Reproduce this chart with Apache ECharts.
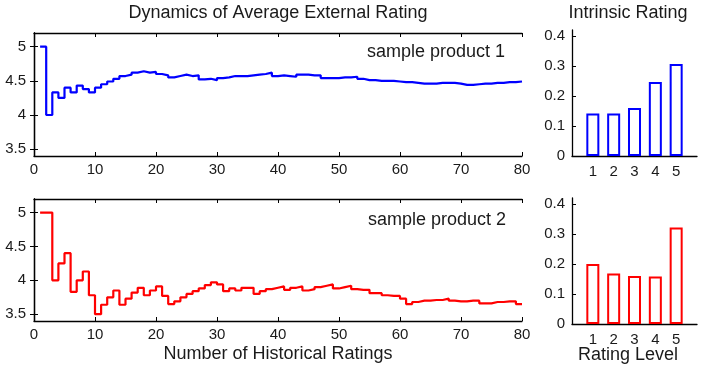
<!DOCTYPE html>
<html>
<head>
<meta charset="utf-8">
<script src="https://cdn.jsdelivr.net/npm/echarts@6/dist/echarts.min.js"></script>
<style>
  html, body { margin: 0; padding: 0; background: #fff; }
  #chart { width: 705px; height: 367px; }
</style>
</head>
<body>
<div id="chart"></div>
<script>
// running average after each rating (stairs)
const product1Avg = [
  5, 4, 4.33, 4.25, 4.4, 4.33, 4.43, 4.38, 4.33, 4.4,
  4.45, 4.49, 4.53, 4.57, 4.59, 4.62, 4.64, 4.62, 4.63, 4.6,
  4.58, 4.55, 4.57, 4.59, 4.57, 4.58, 4.52, 4.53, 4.51, 4.54,
  4.55, 4.57, 4.57, 4.57, 4.58, 4.59, 4.6, 4.62, 4.57, 4.58,
  4.57, 4.56, 4.59, 4.59, 4.58, 4.58, 4.54, 4.54, 4.54, 4.55,
  4.55, 4.56, 4.53, 4.51, 4.51, 4.5, 4.5, 4.5, 4.49, 4.48,
  4.48, 4.47, 4.46, 4.46, 4.46, 4.47, 4.47, 4.47, 4.46, 4.44,
  4.44, 4.45, 4.46, 4.46, 4.47, 4.47, 4.48, 4.48, 4.49, 4.49
];
const product2Avg = [
  5, 5, 4, 4.25, 4.4, 3.83, 4, 4.13, 3.78, 3.5,
  3.64, 3.75, 3.85, 3.64, 3.73, 3.82, 3.89, 3.78, 3.85, 3.91,
  3.77, 3.65, 3.69, 3.75, 3.8, 3.84, 3.88, 3.93, 3.97, 3.94,
  3.84, 3.88, 3.85, 3.89, 3.89, 3.8, 3.84, 3.87, 3.89, 3.91,
  3.86, 3.89, 3.91, 3.85, 3.87, 3.9, 3.92, 3.94, 3.88, 3.9,
  3.92, 3.87, 3.86, 3.86, 3.81, 3.81, 3.78, 3.77, 3.77, 3.73,
  3.65, 3.68, 3.7, 3.7, 3.71, 3.71, 3.73, 3.7, 3.69, 3.69,
  3.7, 3.7, 3.66, 3.66, 3.68, 3.68, 3.69, 3.69, 3.65, 3.65
];
const ratingLevels = [1, 2, 3, 4, 5];
const intrinsic1 = [0.142, 0.142, 0.16, 0.247, 0.307];
const intrinsic2 = [0.2, 0.168, 0.16, 0.158, 0.322];
const avgTicks = [3.5, 4, 4.5, 5];
const shareTicks = [0, 0.1, 0.2, 0.3, 0.4];

const FONT = '"Liberation Sans", Arial, Helvetica, sans-serif';
const INK = '#1a1a1a';

const chart = echarts.init(document.getElementById('chart'));

const toSteps = (vals) => vals.map((v, i) => [i + 1, v]);

function lineX(grid, position, labels) {
  return {
    type: 'value', gridIndex: grid, position, min: 0, max: 80, interval: 10,
    axisLine: { show: true, lineStyle: { color: '#000', width: 1.3 } },
    axisTick: { show: true, inside: true, length: 4, lineStyle: { color: '#000' } },
    axisLabel: { show: labels, color: INK, fontFamily: FONT, fontSize: 15, margin: 6 },
    splitLine: { show: false }
  };
}

function lineY(grid, position, labels) {
  return {
    type: 'value', gridIndex: grid, position, min: 3.4, max: 5.2,
    axisLine: { show: true, lineStyle: { color: '#000', width: 1.3 } },
    axisTick: { show: true, inside: true, length: 4, customValues: avgTicks, lineStyle: { color: '#000' } },
    axisLabel: { show: labels, customValues: avgTicks, color: INK, fontFamily: FONT, fontSize: 15, margin: 8 },
    splitLine: { show: false }
  };
}

function barX(grid) {
  return {
    type: 'value', gridIndex: grid, position: 'bottom', min: 0, max: 6,
    axisLine: { show: true, lineStyle: { color: '#000', width: 1.3 } },
    axisTick: { show: false },
    axisLabel: { customValues: ratingLevels, color: INK, fontFamily: FONT, fontSize: 15, margin: 8 },
    splitLine: { show: false }
  };
}

function barY(grid) {
  return {
    type: 'value', gridIndex: grid, min: 0, max: 0.42,
    axisLine: { show: true, lineStyle: { color: '#000', width: 1.3 } },
    axisTick: { show: true, inside: true, length: 4, customValues: shareTicks, lineStyle: { color: '#000' } },
    axisLabel: { customValues: shareTicks, color: INK, fontFamily: FONT, fontSize: 15, margin: 7 },
    splitLine: { show: false }
  };
}

function txt(text, x, y, align, size) {
  return {
    type: 'text', x, y,
    style: { text, fill: INK, font: size + 'px ' + FONT, textAlign: align, textVerticalAlign: 'middle' }
  };
}

const option = {
  backgroundColor: '#fff',
  animation: false,
  grid: [
    { left: 34, top: 33, width: 488, height: 123 },
    { left: 34, top: 199, width: 488, height: 122 },
    { left: 572, top: 30, width: 125, height: 126 },
    { left: 572, top: 198, width: 125, height: 126 }
  ],
  xAxis: [
    lineX(0, 'bottom', true), lineX(0, 'top', false),
    lineX(1, 'bottom', true), lineX(1, 'top', false),
    barX(2), barX(3)
  ],
  yAxis: [
    lineY(0, 'left', true), lineY(0, 'right', false),
    lineY(1, 'left', true), lineY(1, 'right', false),
    barY(2), barY(3)
  ],
  series: [
    {
      type: 'line', step: 'end', xAxisIndex: 0, yAxisIndex: 0,
      data: toSteps(product1Avg), showSymbol: false,
      lineStyle: { color: '#0000ff', width: 2.2 }
    },
    {
      type: 'line', step: 'end', xAxisIndex: 2, yAxisIndex: 2,
      data: toSteps(product2Avg), showSymbol: false,
      lineStyle: { color: '#ff0000', width: 2.2 }
    },
    {
      type: 'bar', xAxisIndex: 4, yAxisIndex: 4, barWidth: 13,
      data: ratingLevels.map((r, i) => [r, intrinsic1[i]]),
      itemStyle: { color: '#fff', borderColor: '#0000ff', borderWidth: 2 }
    },
    {
      type: 'bar', xAxisIndex: 5, yAxisIndex: 5, barWidth: 13,
      data: ratingLevels.map((r, i) => [r, intrinsic2[i]]),
      itemStyle: { color: '#fff', borderColor: '#ff0000', borderWidth: 2 }
    }
  ],
  graphic: [
    txt('Dynamics of Average External Rating', 278, 13, 'center', 18),
    txt('Intrinsic Rating', 628, 13, 'center', 18),
    txt('sample product 1', 505, 52, 'right', 18),
    txt('sample product 2', 506, 220, 'right', 18),
    txt('Number of Historical Ratings', 278, 354, 'center', 18),
    txt('Rating Level', 628, 355, 'center', 18)
  ]
};

chart.setOption(option);
</script>
</body>
</html>
